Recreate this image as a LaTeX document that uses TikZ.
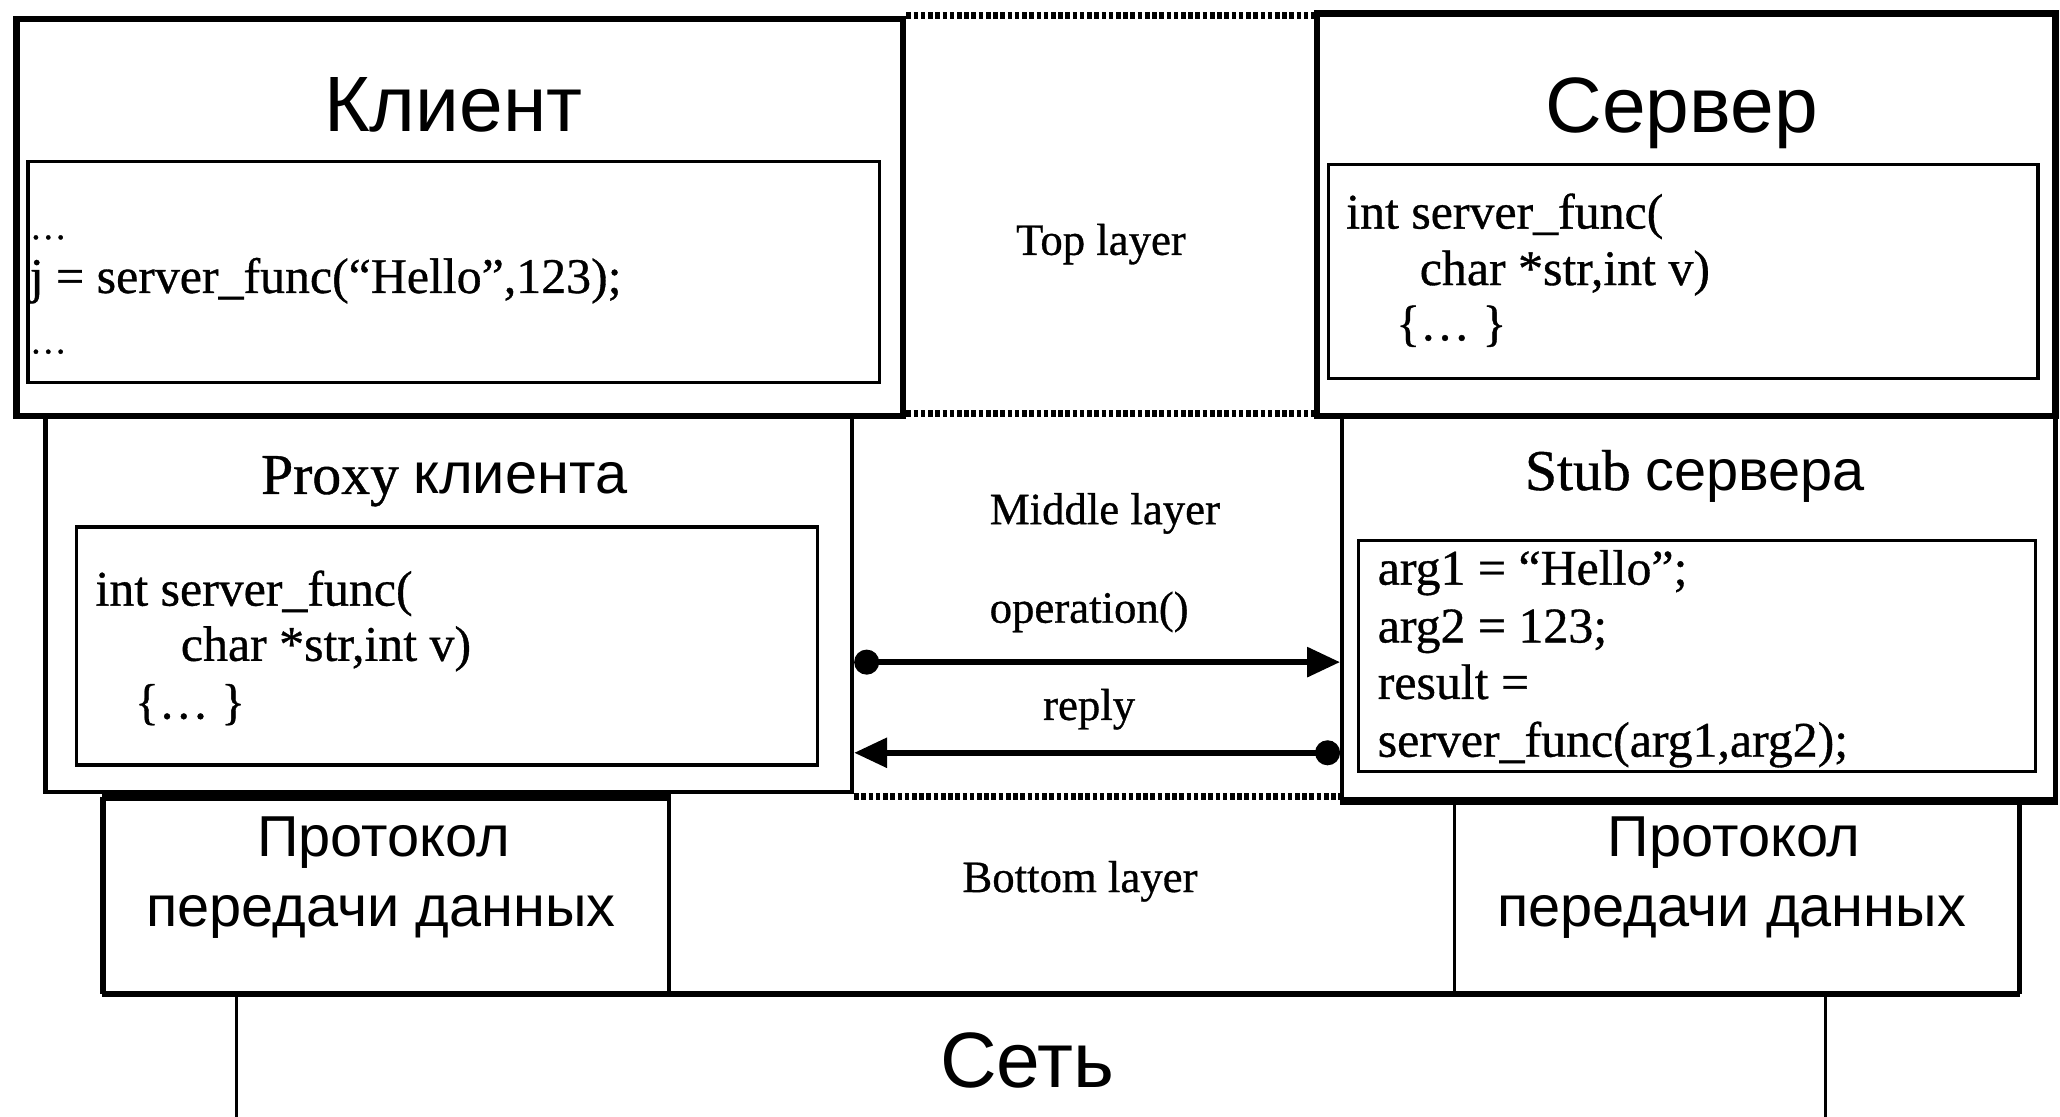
\documentclass[tikz,border=0pt]{standalone}
\usepackage{fontspec}
\setmainfont{Liberation Serif}[FakeBold=0.7]
\newfontfamily\rusans{Liberation Sans}
\usetikzlibrary{arrows.meta, positioning}

\tikzset{
    bigbox/.style={draw, line width=1.4pt, anchor=north west, inner sep=0pt},
    midbox/.style={draw, line width=0.9pt, anchor=north west, inner sep=0pt},
    codebox/.style={draw, line width=0.7pt, anchor=north west, inner sep=0pt},
    code/.style={anchor=base west, inner sep=0pt, font=\fontsize{10.8}{13}\selectfont},
    layer/.style={anchor=base, inner sep=0pt, font=\fontsize{9.7}{12}\selectfont},
    bigtitle/.style={anchor=base, inner sep=0pt, font=\rusans\fontsize{17}{20}\selectfont},
    title/.style={anchor=base, inner sep=0pt, font=\fontsize{12.5}{15}\selectfont},
    proto/.style={anchor=base, inner sep=0pt, font=\rusans\fontsize{12.5}{15}\selectfont},
    dotline/.style={line width=1.6pt, dash pattern=on 0.035cm off 0.02cm},
    msg/.style={line width=1.3pt, {Circle[length=0.19cm]}-{Triangle[length=0.25cm,width=0.22cm]}}
}

\begin{document}
\begin{tikzpicture}
    \fill[white] (0,0) rectangle (15.68,-8.5);
    \useasboundingbox (0,0) rectangle (15.68,-8.5);

    % Client
    \node[bigbox, minimum width=6.75cm, minimum height=3.02cm] (client) at (0.10,-0.12) {};
    \node[bigtitle] (clientname) at (3.45,-1.00) {Клиент};
    \node[codebox, minimum width=6.48cm, minimum height=1.68cm] (clientcode) at (0.20,-1.22) {};
    \node[code, font=\fontsize{8}{9}\selectfont] (cl1) at (0.22,-1.82) {…};
    \node[code] (cl2) at (0.22,-2.23) {j = server\_func(“Hello”,123);};
    \node[code, font=\fontsize{8}{9}\selectfont] (cl3) at (0.22,-2.69) {…};

    % Server
    \node[bigbox, minimum width=5.62cm, minimum height=3.06cm] (server) at (10.00,-0.08) {};
    \node[bigtitle] (servername) at (12.80,-1.01) {Сервер};
    \node[codebox, minimum width=5.40cm, minimum height=1.63cm] (servercode) at (10.10,-1.24) {};
    \node[code] (sv1) at (10.24,-1.74) {int server\_func(};
    \node[code] (sv2) at (10.80,-2.17) {char *str,int v)};
    \node[code] (sv3) at (10.62,-2.59) {\{… \}};

    % Proxy
    \node[midbox, minimum width=6.14cm, minimum height=2.85cm] (proxy) at (0.33,-3.16) {};
    \node[title] (proxyname) at (3.38,-3.76) {Proxy {\rusans клиента}};
    \node[codebox, minimum width=5.64cm, minimum height=1.81cm] (proxycode) at (0.57,-4.00) {};
    \node[code] (px1) at (0.72,-4.61) {int server\_func(};
    \node[code] (px2) at (1.37,-5.03) {char *str,int v)};
    \node[code] (px3) at (1.02,-5.47) {\{… \}};

    % Stub
    \node[midbox, minimum width=5.43cm, minimum height=2.91cm] (stub) at (10.20,-3.16) {};
    \draw[line width=1.4pt] (stub.south west) -- (stub.south east);
    \node[title] (stubname) at (12.90,-3.73) {Stub {\rusans сервера}};
    \node[codebox, minimum width=5.15cm, minimum height=1.76cm] (stubcode) at (10.33,-4.10) {};
    \node[code] (st1) at (10.48,-4.45) {arg1 = “Hello”;};
    \node[code] (st2) at (10.48,-4.89) {arg2 = 123;};
    \node[code] (st3) at (10.48,-5.32) {result =};
    \node[code] (st4) at (10.48,-5.76) {server\_func(arg1,arg2);};

    % Protocols
    \node[codebox, minimum width=4.30cm, minimum height=1.47cm] (protoL) at (0.78,-6.07) {};
    \node[codebox, minimum width=4.29cm, minimum height=1.47cm] (protoR) at (11.06,-6.07) {};
    \draw[line width=1.4pt] (protoL.north west) -- (protoL.north east);
    \draw[line width=1.4pt] (protoL.south west) -- (protoR.south east);
    \draw[line width=1pt] (protoL.north west) -- (protoL.south west);
    \draw[line width=1pt] (protoR.north east) -- (protoR.south east);
    \node[proto] (pl1) at (2.92,-6.52) {Протокол};
    \node[proto] (pl2) at (2.90,-7.05) {передачи данных};
    \node[proto] (pr1) at (13.20,-6.52) {Протокол};
    \node[proto] (pr2) at (13.18,-7.05) {передачи данных};

    % Network
    \node[codebox, minimum width=12.09cm, minimum height=1.5cm] (net) at (1.79,-7.54) {};
    \node[bigtitle] (netname) at (7.82,-8.28) {Сеть};

    % Layers
    \node[layer] (toplayer) at (8.38,-1.94) {Top layer};
    \node[layer] (midlayer) at (8.41,-3.99) {Middle layer};
    \node[layer] (oplabel) at (8.29,-4.74) {operation()};
    \node[layer] (replylabel) at (8.29,-5.48) {reply};
    \node[layer] (botlayer) at (8.22,-6.79) {Bottom layer};

    % Dotted borders
    \draw[dotline] (client.north east) -- (client.north east -| server.west);
    \draw[dotline] ([yshift=0.04cm]client.south east) -- ([yshift=0.04cm]client.south east -| server.west);
    \draw[dotline] ([yshift=-0.02cm]proxy.south east) -- ([yshift=-0.02cm]proxy.south east -| stub.west);

    % Messages
    \coordinate (opy) at (0,-5.04);
    \coordinate (rey) at (0,-5.73);
    \draw[msg] (proxy.east |- opy) -- (stub.west |- opy);
    \draw[msg] (stub.west |- rey) -- (proxy.east |- rey);
\end{tikzpicture}
\end{document}
